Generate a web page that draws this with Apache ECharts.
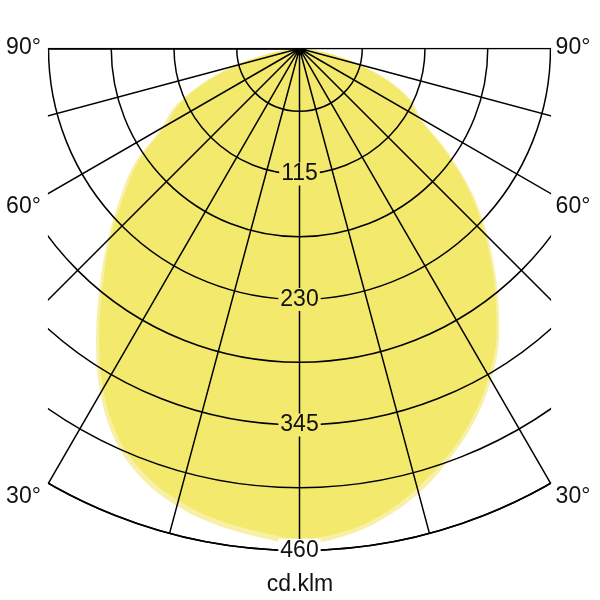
<!DOCTYPE html>
<html><head><meta charset="utf-8">
<script src="https://cdn.jsdelivr.net/npm/echarts@6/dist/echarts.min.js"></script>
<style>html,body{margin:0;padding:0;background:#fff}#c{width:600px;height:600px}</style>
</head><body><div id="c"></div>
<script>
// angle from nadir (negative = left half), degrees
const angles = [-90,-85,-80,-75,-70,-65,-60,-55,-50,-45,-40,-35,-30,-25,-20,-15,-10,-5,0,5,10,15,20,25,30,35,40,45,50,55,60,65,70,75,80,85,90];
// outer (paler) plane, cd/klm
const planeOuter = [0,12,33,64,96,126,146,185,215,249,285,325,365,398,420,434,443,449,454,449,438,422,401,378,351,319,281,244,207,166,129,113,88,58,30,10,0];
// inner (saturated) plane, cd/klm
const planeInner = [0,10,30,60,92,122,142,180,210,245,280,320,360,393,415,429,438,444,449,445,434,417,397,374,347,315,277,240,203,162,125,110,85,55,28,9,0];
// radius tick labels
const ringLabels = [115,230,345,460];
const degLabels = ['90°','60°','30°'];
const unitLabel = 'cd.klm';

const FONT = '"Liberation Sans", Arial, sans-serif';
const LINE = '#000';
const TXT = '#111';
const YEL = '#F3E96D';
const YEL_LIGHT = '#F7F0A6';

const toPairs = vals => vals.map((v, i) => [v, angles[i]]);

const chart = echarts.init(document.getElementById('c'), null, {renderer: 'canvas'});

const degY = [48, 207, 497];
const graphics = [
  {type: 'rect', shape: {x: 0, y: 0, width: 47.9, height: 600}, style: {fill: '#fff'}, z: 100, silent: true},
  {type: 'rect', shape: {x: 551.1, y: 0, width: 49, height: 600}, style: {fill: '#fff'}, z: 100, silent: true},
  {type: 'rect', shape: {x: 0, y: 0, width: 600, height: 47.7}, style: {fill: '#fff'}, z: 100, silent: true}
];
degLabels.forEach((t, i) => {
  graphics.push({type: 'text', x: 23.5, y: degY[i], z: 101, silent: true,
    style: {text: t, fontSize: 23, fontFamily: FONT, fill: TXT, align: 'center', verticalAlign: 'middle'}});
  graphics.push({type: 'text', x: 573, y: degY[i], z: 101, silent: true,
    style: {text: t, fontSize: 23, fontFamily: FONT, fill: TXT, align: 'center', verticalAlign: 'middle'}});
});
graphics.push({type: 'text', x: 300, y: 585, z: 101, silent: true,
  style: {text: unitLabel, fontSize: 23, fontFamily: FONT, fill: TXT, align: 'center', verticalAlign: 'middle'}});

chart.setOption({
  animation: false,
  graphic: graphics,
  polar: {center: [299.5, 48.5], radius: 502},
  angleAxis: {
    type: 'value', min: -90, max: 90, interval: 15,
    startAngle: 180, endAngle: 360, clockwise: false, z: 3,
    axisLine: {show: true, lineStyle: {color: LINE, width: 1.5}},
    axisTick: {show: false}, axisLabel: {show: false},
    splitLine: {show: true, lineStyle: {color: LINE, width: 1.5}}
  },
  radiusAxis: {
    type: 'value', min: 0, max: 460, interval: 57.5, z: 3,
    axisLine: {show: true, lineStyle: {color: LINE, width: 1.5}},
    axisTick: {show: false}, axisLabel: {show: false},
    splitLine: {show: true, lineStyle: {color: LINE, width: 1.5}}
  },
  series: [
    {type: 'line', coordinateSystem: 'polar', data: toPairs(planeOuter), smooth: 0.35,
      showSymbol: false, lineStyle: {width: 0}, areaStyle: {color: YEL_LIGHT, opacity: 1}, z: 1, silent: true},
    {type: 'line', coordinateSystem: 'polar', data: toPairs(planeInner), smooth: 0.35,
      showSymbol: false, lineStyle: {width: 0}, areaStyle: {color: YEL, opacity: 1}, z: 2, silent: true},
    {type: 'scatter', coordinateSystem: 'polar', symbolSize: 1, itemStyle: {color: 'rgba(0,0,0,0)'}, z: 4, silent: true,
      data: ringLabels.map((r, i) => ({
        value: [r, 0], name: String(r),
        label: {backgroundColor: i < ringLabels.length - 1 ? YEL : '#fff'}
      })),
      label: {show: true, position: 'inside', formatter: p => p.name, fontSize: 23, fontFamily: FONT,
        color: TXT, opacity: 1, padding: [0, 2, 0, 2]}
    }
  ]
});
</script></body></html>
